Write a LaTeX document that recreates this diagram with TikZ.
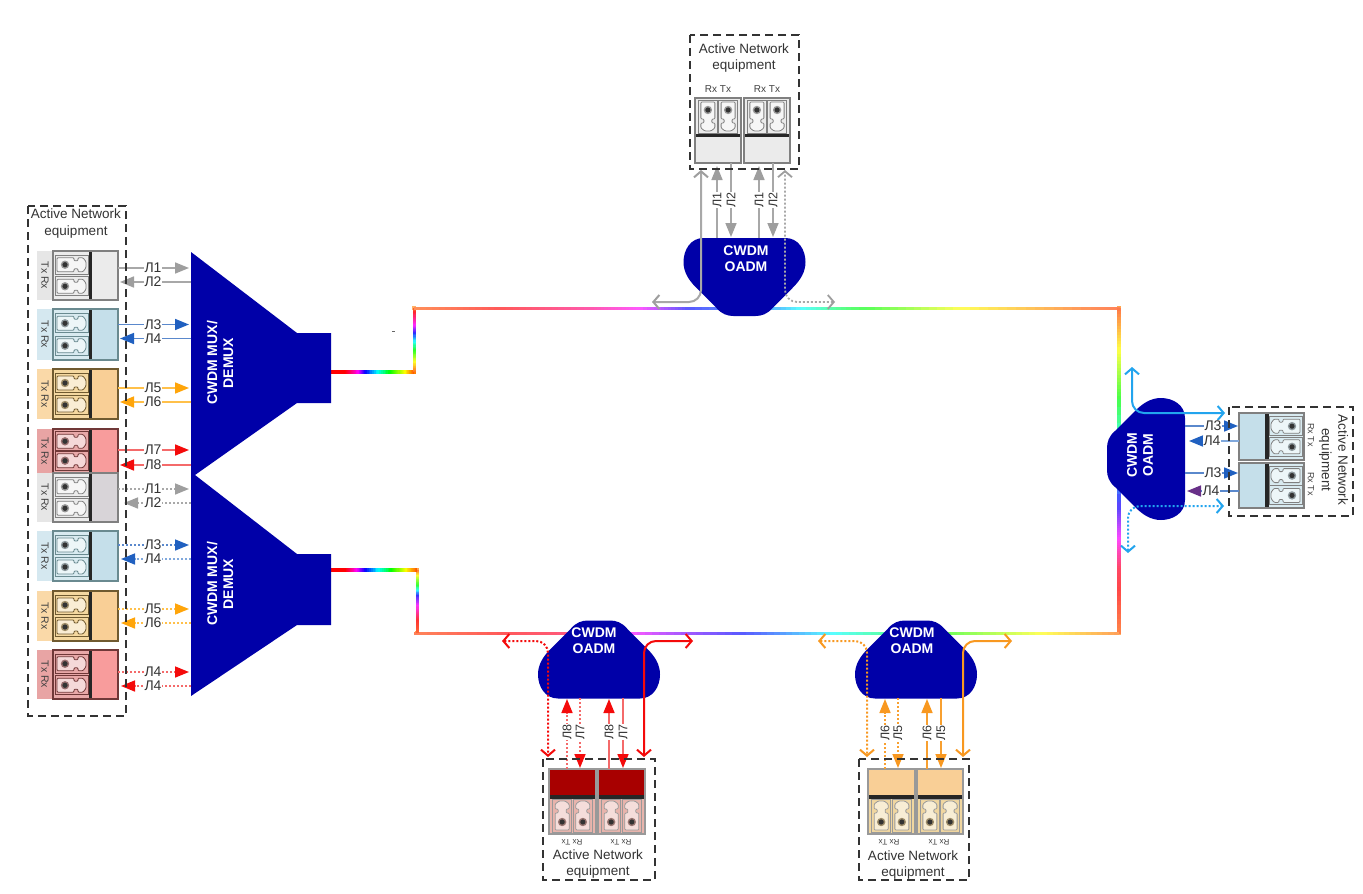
\documentclass[tikz,border=0pt]{standalone}
\usepackage{fontspec}
\setmainfont{Liberation Sans}
\usetikzlibrary{arrows.meta,calc}
\definecolor{navy}{HTML}{0000A8}
\definecolor{gL}{HTML}{A8A8A8}\definecolor{gH}{HTML}{9E9E9E}
\definecolor{bL}{HTML}{5A88CC}\definecolor{bH}{HTML}{2060C0}
\definecolor{bP}{HTML}{80A8DC}
\definecolor{aL}{HTML}{FFC04A}\definecolor{aH}{HTML}{FFA50A}
\definecolor{rL}{HTML}{F46A6A}\definecolor{rH}{HTML}{F40A0A}
\definecolor{oL}{HTML}{F8A030}\definecolor{oH}{HTML}{F89820}
\definecolor{cy}{HTML}{22A4EE}\definecolor{pu}{HTML}{683088}
% module colours
\definecolor{gStrip}{HTML}{E6E6E6}\definecolor{gFill}{HTML}{EBEBEB}\definecolor{gPort}{HTML}{EBEBEB}\definecolor{gEdge}{HTML}{808080}
\definecolor{g2Fill}{HTML}{D8D4D8}
\definecolor{blStrip}{HTML}{D5E8F0}\definecolor{blFill}{HTML}{C5DFEA}\definecolor{blPort}{HTML}{D8EAF0}\definecolor{blEdge}{HTML}{6A8A90}
\definecolor{orStrip}{HTML}{FAD9A8}\definecolor{orFill}{HTML}{F9CF96}\definecolor{orPort}{HTML}{F5D8A0}\definecolor{orEdge}{HTML}{705A30}
\definecolor{reStrip}{HTML}{E8A4A4}\definecolor{reFill}{HTML}{F89C9C}\definecolor{rePort}{HTML}{E8A8A8}\definecolor{reEdge}{HTML}{703838}
\definecolor{darkRed}{HTML}{A80000}\definecolor{pinkPort}{HTML}{E8B4AC}\definecolor{sandPort}{HTML}{F0D6A0}\definecolor{edgeG}{HTML}{999999}
\tikzset{
  fat/.style={-{Triangle[length=14pt,width=11pt,color=#1]}},
  openboth/.style={{Straight Barb[length=6pt,width=14pt,color=#1]}-{Straight Barb[length=6pt,width=14pt,color=#1]}},
  dots/.style={dash pattern=on 2pt off 2pt},
  plain/.style={},
  lbl/.style={fill=white,inner sep=0.6pt,text=black!80,font=\fontsize{14}{15}\selectfont},
  vlbl/.style={fill=white,inner sep=0.5pt,text=black!80,rotate=90,font=\fontsize{12.5}{13}\selectfont},
  dbox/.style={draw=black!80,line width=1.5pt,dash pattern=on 8pt off 5pt},
  anet/.style={align=center,text=black!80,inner sep=0pt,font=\fontsize{13.5}{16.5}\selectfont},
  whitebold/.style={align=center,text=white,inner sep=0pt,font=\fontsize{14}{16}\selectfont\bfseries},
  rt/.style={text=black!75,inner sep=0pt,font=\fontsize{#1}{#1}\selectfont},
  rt/.default=9
}
% transceiver: x y rotation width fill port border
\newcommand{\xcvr}[7]{%
  \begin{scope}[shift={(#1,#2)},rotate=#3]
    \fill[#5] (0,37) rectangle (#4,65);
    \fill[#6] (0,0) rectangle (#4,37);
    \foreach \cc in {0.28,0.72}{
      \pgfmathsetmacro\cx{#4*\cc}
      \draw[#7,line width=1pt,fill=#6] ({\cx-9.5},2) rectangle ({\cx+9.5},35);
      \draw[#7,line width=0.8pt,fill=white!55!#6,rounded corners=1pt]
        ({\cx-7},4) -- ({\cx+7},4) -- ({\cx+7},21) -- ({\cx+4},21) -- ({\cx+4},25)
        -- ({\cx+7},25) -- ({\cx+7},30) -- ({\cx+3},33) -- ({\cx-3},33) -- ({\cx-7},30)
        -- ({\cx-7},25) -- ({\cx-4},25) -- ({\cx-4},21) -- ({\cx-7},21) -- cycle;
      \fill[black!35!#6] (\cx,12) circle (4.2);
      \fill[black!80] (\cx,12) circle (2.6);
    }
    \fill[black!85] (0,35.5) rectangle (#4,39);
    \draw[#7,line width=1.2pt] (0,0) rectangle (#4,65);
  \end{scope}}
% left row: top bottom strip fill port border name
\newcommand{\rowmod}[7]{%
  \fill[#3] (37,#1) rectangle (54,#2);
  \pgfmathsetmacro\rh{#2-#1}
  \xcvr{53}{#2}{90}{\rh}{#4}{#5}{#6}
  \node[rt=10.5,rotate=-90] (#7) at (45,{(#1+#2)/2}) {Tx Rx};}
% connector: name, from, to, line colour, head colour, line style, label, label style, label position
\newcommand{\arlink}[9]{%
  \coordinate (#1a) at (#2);
  \coordinate (#1b) at (#3);
  \draw[line width=1.6pt,color=#4,fat=#5,#6] (#1a) -- (#1b);
  \node[#8] (#1l) at (#9) {#7};}
% rainbow fibre between two named points, hue stops as t/h
\newcommand{\fibre}[5]{%
  \foreach \ta/\ha [remember=\ta as \tp (initially 0),remember=\ha as \hp (initially 0)] in {#5}{
    \ifdim\ta pt>\tp pt
      \foreach \i in {1,...,14}{
        \pgfmathsetmacro\hh{mod(\hp+(\ha-\hp)*(\i-0.5)/14+720,360)}
        \pgfmathsetmacro\sa{\tp+(\ta-\tp)*(\i-1)/14}
        \pgfmathsetmacro\sb{\tp+(\ta-\tp)*(\i+0.25)/14}
        \definecolor{fc}{Hsb}{\hh,#4,1}
        \draw[fc,line width=#3] ($(#1)!\sa!(#2)$) -- ($(#1)!\sb!(#2)$);
      }
    \fi
  }}
\newcommand{\oadmpath}{(-41,-39) -- (41,-39) .. controls (54,-39) and (61,-27) .. (61,-15)
  .. controls (61,-5) and (56,3) .. (48,11) -- (28,31) .. controls (23,37) and (17,39) .. (11,39)
  -- (-11,39) .. controls (-17,39) and (-23,37) .. (-28,31) -- (-48,11)
  .. controls (-56,3) and (-61,-5) .. (-61,-15) .. controls (-61,-27) and (-54,-39) .. (-41,-39) -- cycle}
\begin{document}
\begin{tikzpicture}[x=1pt,y=-1pt]
\useasboundingbox (0,0) rectangle (1363,894);
\fill[white] (0,0) rectangle (1363,894);

% fibre ring
\coordinate (m1o) at (331,372); \coordinate (c1) at (414,372); \coordinate (c2) at (414,308);
\coordinate (c3) at (1119,308); \coordinate (c4) at (1119,633); \coordinate (c5) at (417,633);
\coordinate (c6) at (417,570); \coordinate (m2o) at (331,570);
\foreach \c/\k in {c1/orange,c2/orange!60,c3/orange!70,c4/orange!60,c5/orange!70,c6/orange!70}
  \fill[\k] ($(\c)+(-1.6,-1.6)$) rectangle ($(\c)+(1.6,1.6)$);
\fibre{m1o}{c1}{4pt}{1}{0/360,0.17/360,0.33/300,0.41/240,0.71/120,0.89/60,1/20}
\fibre{c1}{c2}{3pt}{0.85}{0/20,0.16/60,0.34/120,0.61/240,0.73/300,0.97/370,1/375}
\fibre{c2}{c3}{3pt}{0.65}{0/20,0.122/0,0.25/-30,0.32/-60,0.39/-120,0.52/-160,0.62/-230,0.775/-300,0.96/-340,1/-345}
\fibre{c3}{c4}{3.5pt}{0.72}{0/15,0.13/60,0.28/120,0.62/250,0.71/300,0.8/350,1/380}
\fibre{c4}{c5}{3pt}{0.65}{0/25,0.11/60,0.24/110,0.385/170,0.51/230,0.655/280,0.8/350,1/375}
\fibre{c5}{c6}{3pt}{0.8}{0/15,0.2/0,0.44/-60,0.6/-120,0.76/-240,0.92/-300,1/-340}
\fibre{m2o}{c6}{4pt}{1}{0/360,0.17/360,0.3/300,0.4/240,0.7/120,0.87/60,1/20}
\fill[black!60] (392,330.5) rectangle (395,331.5);

% multiplexers
\fill[navy] (191,252) -- (297,333) -- (331,333) -- (331,403) -- (297,403) -- (195,475) -- (191,475) -- cycle;
\fill[navy] (191,475) -- (195,475) -- (297,554) -- (331,554) -- (331,625) -- (297,625) -- (191,696) -- cycle;
\node[whitebold,rotate=90] (mux1) at (220,363) {CWDM MUX/\\DEMUX};
\node[whitebold,rotate=90] (mux2) at (220,584) {CWDM MUX/\\DEMUX};

% OADMs
\begin{scope}[shift={(744.5,277)}] \fill[navy] \oadmpath; \end{scope}
\begin{scope}[shift={(599,659.5)},yscale=-1] \fill[navy] \oadmpath; \end{scope}
\begin{scope}[shift={(916,659.5)},yscale=-1] \fill[navy] \oadmpath; \end{scope}
\begin{scope}[shift={(1146,459)},rotate=-90] \fill[navy] \oadmpath; \end{scope}
\node[whitebold] (oT) at (746,259) {CWDM\\OADM};
\node[whitebold] (oL) at (594,641) {CWDM\\OADM};
\node[whitebold] (oR) at (912,641) {CWDM\\OADM};
\node[whitebold,rotate=90] (oE) at (1140,455) {CWDM\\OADM};

% left equipment
\rowmod{251}{300}{gStrip}{gFill}{gPort}{gEdge}{t1}
\rowmod{309}{360}{blStrip}{blFill}{blPort}{blEdge}{t2}
\rowmod{369}{419}{orStrip}{orFill}{orPort}{orEdge}{t3}
\rowmod{429}{473}{reStrip}{reFill}{rePort}{reEdge}{t4}
\rowmod{473}{522}{gStrip}{g2Fill}{gPort}{gEdge}{t5}
\rowmod{531}{581}{blStrip}{blFill}{blPort}{blEdge}{t6}
\rowmod{591}{641}{orStrip}{orFill}{orPort}{orEdge}{t7}
\rowmod{650}{699}{reStrip}{reFill}{rePort}{reEdge}{t8}
\node[anet] (aL) at (76,223.5) {Active Network\\equipment};

\arlink{a1}{118,268}{189,268}{gL}{gH}{plain}{Л1}{lbl}{153,268}
\arlink{a2}{191,282}{120,282}{gL}{gH}{plain}{Л2}{lbl}{153,282}
\arlink{a3}{118,324.5}{189,324.5}{bL}{bH}{plain}{Л3}{lbl}{153,324.5}
\arlink{a4}{191,338.5}{120,338.5}{bL}{bH}{plain}{Л4}{lbl}{153,338.5}
\arlink{a5}{118,388}{189,388}{aL}{aH}{plain}{Л5}{lbl}{153,388}
\arlink{a6}{191,402}{120,402}{aL}{aH}{plain}{Л6}{lbl}{153,402}
\arlink{a7}{118,450}{189,450}{rL}{rH}{plain}{Л7}{lbl}{153,450}
\arlink{a8}{191,465}{120,465}{rL}{rH}{plain}{Л8}{lbl}{153,465}
\arlink{b1}{118,489}{189,489}{gL}{gH}{dots}{Л1}{lbl}{153,489}
\arlink{b2}{191,503}{124,503}{gL}{gH}{dots}{Л2}{lbl}{153,503}
\arlink{b3}{118,545}{189,545}{bL}{bH}{dots}{Л3}{lbl}{153,545}
\arlink{b4}{191,559}{121,559}{bP}{bH}{dots}{Л4}{lbl}{153,559}
\arlink{b5}{118,609}{189,609}{aL}{aH}{dots}{Л5}{lbl}{153,609}
\arlink{b6}{191,623}{121,623}{aL}{aH}{dots}{Л6}{lbl}{153,623}
\arlink{b7}{118,672}{189,672}{rL}{rH}{dots}{Л4}{lbl}{153,672}
\arlink{b8}{191,686}{121,686}{rL}{rH}{dots}{Л4}{lbl}{153,686}
\draw[dbox] (28,206) rectangle (126,716);

% top equipment
\xcvr{695}{98}{0}{46}{gFill}{gPort}{gEdge}
\xcvr{744}{98}{0}{46}{gFill}{gPort}{gEdge}
\node[anet] (aT) at (744,58) {Active Network\\equipment};
\node[rt=10] (rT1) at (718,89) {Rx Tx};
\node[rt=10] (rT2) at (767,89) {Rx Tx};
\coordinate (tAa) at (652,302); \coordinate (tAb) at (701,170);
\draw[gL,line width=2pt,rounded corners=12pt,openboth=gH] (tAa) -- (tAb |- tAa) -- (tAb);
\coordinate (tBa) at (835,302); \coordinate (tBb) at (785,170);
\draw[gL,line width=1.8pt,dots,rounded corners=12pt,openboth=gH] (tBa) -- (tBb |- tBa) -- (tBb);
\arlink{t1l}{717,238}{717,166}{gL}{gH}{plain}{Л1}{vlbl}{717,200}
\arlink{t2l}{731,163}{731,237}{gL}{gH}{plain}{Л2}{vlbl}{731,200}
\arlink{t3l}{759,238}{759,166}{gL}{gH}{plain}{Л1}{vlbl}{759,200}
\arlink{t4l}{773,163}{773,237}{gL}{gH}{plain}{Л2}{vlbl}{773,200}
\draw[dbox] (690,35) rectangle (799,169);

% east equipment
\xcvr{1304}{413}{-90}{47}{blFill}{blPort}{gEdge}
\xcvr{1304}{463}{-90}{45}{blFill}{blPort}{gEdge}
\node[anet,rotate=-90] (aE) at (1333.5,460) {Active Network\\equipment};
\node[rt=9,rotate=-90] (rE1) at (1311,435) {Rx Tx};
\node[rt=9,rotate=-90] (rE2) at (1311,484) {Rx Tx};
\coordinate (eAa) at (1132,367); \coordinate (eAb) at (1225,413);
\draw[cy,line width=2pt,rounded corners=12pt,openboth=cy] (eAa) -- (eAa |- eAb) -- (eAb);
\coordinate (eBa) at (1128,553); \coordinate (eBb) at (1224,506);
\draw[cy,line width=2pt,dots,rounded corners=12pt,openboth=cy] (eBa) -- (eBa |- eBb) -- (eBb);
\arlink{e1}{1185,426}{1238,426}{bL}{bH}{plain}{Л3}{lbl}{1213,426}
\arlink{e2}{1239,441}{1189,441}{bP}{bH}{plain}{Л4}{lbl}{1212,441}
\arlink{e3}{1185,473}{1238,473}{bL}{bH}{plain}{Л3}{lbl}{1213,473}
\arlink{e4}{1239,491}{1187,491}{bL}{pu}{plain}{Л4}{lbl}{1211,491}
\draw[dbox] (1229,407) rectangle (1353,516);

% south-west equipment
\xcvr{596}{834}{180}{47}{darkRed}{pinkPort}{edgeG}
\xcvr{645}{834}{180}{47}{darkRed}{pinkPort}{edgeG}
\node[anet] (aS) at (598,864) {Active Network\\equipment};
\node[rt=8,rotate=180] (rS1) at (572,842) {Rx Tx};
\node[rt=8,rotate=180] (rS2) at (621,842) {Rx Tx};
\coordinate (sAa) at (502,641); \coordinate (sAb) at (548,757);
\draw[rH,line width=2pt,dots,rounded corners=12pt,openboth=rH] (sAa) -- (sAb |- sAa) -- (sAb);
\coordinate (sBa) at (693,641); \coordinate (sBb) at (644,757);
\draw[rH,line width=2pt,rounded corners=12pt,openboth=rH] (sBa) -- (sBb |- sBa) -- (sBb);
\arlink{s1}{567,769}{567,699}{rL}{rH}{dots}{Л8}{vlbl}{567,732}
\arlink{s2}{580,698}{580,768}{rL}{rH}{dots}{Л7}{vlbl}{580,732}
\arlink{s3}{609,769}{609,699}{rL}{rH}{plain}{Л8}{vlbl}{609,732}
\arlink{s4}{623,698}{623,768}{rL}{rH}{plain}{Л7}{vlbl}{623,732}
\draw[dbox] (543,759) rectangle (655,880);

% south-east equipment
\xcvr{915}{834}{180}{47}{orFill}{sandPort}{edgeG}
\xcvr{963}{834}{180}{46}{orFill}{sandPort}{edgeG}
\node[anet] (aQ) at (913,865) {Active Network\\equipment};
\node[rt=8,rotate=180] (rQ1) at (889,842) {Rx Tx};
\node[rt=8,rotate=180] (rQ2) at (939,842) {Rx Tx};
\coordinate (qAa) at (818,641); \coordinate (qAb) at (867,757);
\draw[oH,line width=2pt,dots,rounded corners=12pt,openboth=oH] (qAa) -- (qAb |- qAa) -- (qAb);
\coordinate (qBa) at (1012,641); \coordinate (qBb) at (963,757);
\draw[oH,line width=2pt,rounded corners=12pt,openboth=oH] (qBa) -- (qBb |- qBa) -- (qBb);
\arlink{q1}{885,769}{885,699}{oL}{oH}{dots}{Л6}{vlbl}{885,733}
\arlink{q2}{898,698}{898,768}{oL}{oH}{dots}{Л5}{vlbl}{898,733}
\arlink{q3}{927,769}{927,699}{oL}{oH}{plain}{Л6}{vlbl}{927,733}
\arlink{q4}{941,698}{941,768}{oL}{oH}{plain}{Л5}{vlbl}{941,733}
\draw[dbox] (859,759) rectangle (969,880);
\end{tikzpicture}
\end{document}
